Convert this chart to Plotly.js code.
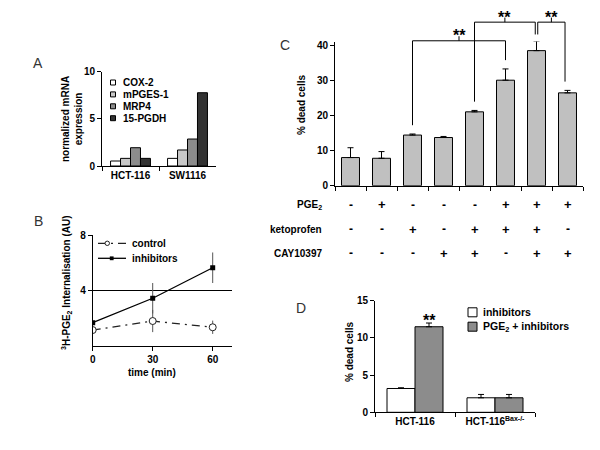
<!DOCTYPE html>
<html><head><meta charset="utf-8">
<script src="https://cdn.plot.ly/plotly-3.0.1.min.js"></script>
<style>html,body{margin:0;padding:0;background:#fff}#chart{width:600px;height:450px}</style>
</head><body><div id="chart"></div>
<script>
// ---------- Panel A data ----------
const cellLinesA = ['HCT-116', 'SW1116'];
const genesA = ['COX-2', 'mPGES-1', 'MRP4', '15-PGDH'];
const cox2A = [0.53, 0.81];
const mpges1A = [0.81, 1.70];
const mrp4A = [1.94, 2.86];
const pgdh15A = [0.81, 7.77];

// ---------- Panel B data ----------
const timeMin = [0, 30, 60];
const controlB = [1.15, 1.80, 1.35];
const controlErrB = [0.10, 0.80, 0.48];
const inhibitorsB = [1.68, 3.44, 5.64];
const inhibitorsErrB = [0, 1.10, 1.10];
const seriesB = ['control', 'inhibitors'];

// ---------- Panel C data ----------
const rowLabelsC = ['PGE<sub>2</sub>', 'ketoprofen', 'CAY10397'];
const pge2Row = ['-', '+', '-', '-', '-', '+', '+', '+'];
const ketoprofenRow = ['-', '-', '+', '-', '+', '+', '+', '-'];
const cayRow = ['-', '-', '-', '+', '+', '-', '+', '+'];
const deadCellsC = [8.0, 7.8, 14.4, 13.7, 21.0, 30.0, 38.4, 26.4];
const deadCellsErrC = [2.8, 1.9, 0.3, 0.3, 0.4, 3.2, 2.7, 0.7];
const sigPairsC = [[2, 5], [4, 6], [6, 7]];
const sigLabelsC = ['**', '**', '**'];

// ---------- Panel D data ----------
const cellLinesD = ['HCT-116', 'HCT-116<sup>Bax-/-</sup>'];
const seriesD = ['inhibitors', 'PGE<sub>2</sub> + inhibitors'];
const inhibitorsD = [3.2, 1.95];
const inhibitorsErrD = [0.1, 0.45];
const pge2InhibitorsD = [11.5, 1.95];
const pge2InhibitorsErrD = [0.5, 0.45];
const sigD = [{cat: 0, series: 1, label: '**'}];

// ---------- helpers / styles ----------
const W = 600, H = 450;
const px = v => v / W;
const py = v => 1 - v / H;
const FONT = 'Liberation Sans, Arial, sans-serif';
const boldFont = (s) => ({family: FONT, size: s, color: '#000', weight: 'bold'});
const colorsA = ['#ffffff', '#c8c8c8', '#8c8c8c', '#333333'];
const colorsD = ['#ffffff', '#8c8c8c'];
const conditionsC = pge2Row.map((p, i) => p + ketoprofenRow[i] + cayRow[i]);

const axBase = {
  showline: true, linecolor: '#000', linewidth: 1,
  ticks: 'outside', ticklen: 4, tickwidth: 1, tickcolor: '#000',
  zeroline: false, showgrid: false, fixedrange: true,
  tickfont: boldFont(10)
};

const traces = [];
// Panel A bars
[cox2A, mpges1A, mrp4A, pgdh15A].forEach((vals, k) => {
  traces.push({
    type: 'bar', x: cellLinesA, y: vals, name: genesA[k],
    xaxis: 'x', yaxis: 'y',
    marker: {color: colorsA[k], line: {color: '#000', width: 1}}
  });
});
// Panel B lines
traces.push({
  type: 'scatter', mode: 'lines+markers', x: timeMin, y: controlB, name: seriesB[0],
  xaxis: 'x2', yaxis: 'y2',
  line: {color: '#222', width: 1.3, dash: '8px,5px,2px,5px'},
  marker: {symbol: 'circle', size: 7, color: '#fff', line: {color: '#222', width: 1}},
  error_y: {type: 'data', array: controlErrB, color: '#555', thickness: 1, width: 0}
});
traces.push({
  type: 'scatter', mode: 'lines+markers', x: timeMin, y: inhibitorsB, name: seriesB[1],
  xaxis: 'x2', yaxis: 'y2',
  line: {color: '#000', width: 1.3},
  marker: {symbol: 'square', size: 5, color: '#000'},
  error_y: {type: 'data', array: inhibitorsErrB, color: '#555', thickness: 1, width: 0}
});
// Panel C bars
traces.push({
  type: 'bar', x: conditionsC, y: deadCellsC, name: '% dead cells',
  xaxis: 'x3', yaxis: 'y3', width: 0.58,
  marker: {color: '#c0c0c0', line: {color: '#000', width: 1}},
  error_y: {type: 'data', symmetric: false, array: deadCellsErrC,
            arrayminus: deadCellsErrC.map(() => 0), color: '#000', thickness: 1, width: 3}
});
// Panel D bars
[[inhibitorsD, inhibitorsErrD], [pge2InhibitorsD, pge2InhibitorsErrD]].forEach(([vals, errs], k) => {
  traces.push({
    type: 'bar', x: cellLinesD, y: vals, name: seriesD[k],
    xaxis: 'x4', yaxis: 'y4',
    marker: {color: colorsD[k], line: {color: '#000', width: 1}},
    error_y: {type: 'data', symmetric: false, array: errs,
              arrayminus: errs.map(() => 0), color: '#000', thickness: 1, width: 3}
  });
});

const layout = {
  width: W, height: H,
  margin: {l: 0, r: 0, t: 0, b: 0},
  paper_bgcolor: '#fff', plot_bgcolor: 'rgba(0,0,0,0)',
  showlegend: false,
  font: {family: FONT, size: 10, color: '#000', weight: 'bold'},
  barmode: 'group', bargap: 0.3, bargroupgap: 0,
  xaxis: {...axBase, domain: [px(102), px(216)], anchor: 'y', type: 'category', tickson: 'boundaries'},
  yaxis: {...axBase, domain: [py(166), py(71.7)], anchor: 'x', range: [0, 10], tickvals: [0, 5, 10]},
  xaxis2: {...axBase, domain: [px(92.7), px(231.7)], anchor: 'y2', range: [0, 69.5], tickvals: timeMin},
  yaxis2: {...axBase, domain: [py(346), py(235)], anchor: 'x2', range: [0, 8], tickvals: [4, 8],
           showgrid: true, gridcolor: '#000', gridwidth: 1},
  xaxis3: {...axBase, domain: [px(335), px(583)], anchor: 'y3', type: 'category', tickson: 'boundaries', showticklabels: false},
  yaxis3: {...axBase, domain: [py(185.7), py(41.5)], anchor: 'x3', range: [0, 41], tickvals: [0, 10, 20, 30, 40]},
  xaxis4: {...axBase, domain: [px(375), px(535)], anchor: 'y4', type: 'category', tickson: 'boundaries'},
  yaxis4: {...axBase, domain: [py(412.3), py(300.7)], anchor: 'x4', range: [0, 15], tickvals: [0, 5, 10, 15]},
  shapes: [], annotations: []
};

const ann = layout.annotations, shp = layout.shapes;
const txt = (x, y, text, opts) => Object.assign({xref: 'paper', yref: 'paper', x, y, text, showarrow: false,
  font: boldFont(10), xanchor: 'center', yanchor: 'middle'}, opts || {});

// Panel letters
[['A', 38, 63], ['B', 38, 221], ['C', 285, 45], ['D', 301, 308]].forEach(([t, x, y]) => {
  ann.push(txt(px(x), py(y), t, {font: {family: FONT, size: 14, color: '#333', weight: 'normal'}}));
});

// Axis titles (as rotated text)
ann.push(txt(px(72), py(119), 'normalized mRNA<br>expression', {textangle: -90}));
ann.push(txt(px(66), py(283), '<sup>3</sup>H-PGE<sub>2</sub> Internalisation (AU)', {textangle: -90}));
ann.push(txt(px(152), py(372), 'time (min)'));
ann.push(txt(px(301), py(105), '% dead cells', {textangle: -90}));
ann.push(txt(px(349), py(352), '% dead cells', {textangle: -90}));

// Panel A legend
genesA.forEach((g, k) => {
  const yc = 82.5 + 11.9 * k;
  shp.push({type: 'rect', xref: 'paper', yref: 'paper', x0: px(110.5), x1: px(115.5), y0: py(yc + 2.5), y1: py(yc - 2.5),
            fillcolor: colorsA[k], line: {color: '#000', width: 1}});
  ann.push(txt(px(121), py(yc), g, {xanchor: 'left'}));
});

// Panel B legend
[[243.3, 0], [258.3, 1]].forEach(([yc, k]) => {
  const tr = traces[4 + k];
  shp.push({type: 'line', xref: 'paper', yref: 'paper', x0: px(98), x1: px(126), y0: py(yc), y1: py(yc),
            line: {color: tr.line.color, width: tr.line.width, dash: tr.line.dash || 'solid'}});
  if (k === 0) {
    shp.push({type: 'circle', xref: 'paper', yref: 'paper', x0: px(105), x1: px(109.5), y0: py(yc + 2.2), y1: py(yc - 2.2),
              fillcolor: '#fff', line: {color: '#222', width: 1}});
  } else {
    shp.push({type: 'rect', xref: 'paper', yref: 'paper', x0: px(109.8), x1: px(113.6), y0: py(yc + 1.9), y1: py(yc - 1.9),
              fillcolor: '#000', line: {color: '#000', width: 0}});
  }
  ann.push(txt(px(130), py(yc), seriesB[k], {xanchor: 'left'}));
});

// Panel D legend
seriesD.forEach((s, k) => {
  const yc = 312.3 + 14.4 * k;
  shp.push({type: 'rect', xref: 'paper', yref: 'paper', x0: px(468), x1: px(477), y0: py(yc + 4.5), y1: py(yc - 4.5),
            fillcolor: colorsD[k], line: {color: '#000', width: 1}});
  ann.push(txt(px(481), py(yc), s, {xanchor: 'left', font: boldFont(10.5)}));
});

// Panel C condition table
const rowsC = [pge2Row, ketoprofenRow, cayRow];
const rowY = [205, 229.3, 253.3];
rowsC.forEach((row, r) => {
  ann.push(txt(px(324), py(rowY[r]), rowLabelsC[r], {xanchor: 'right'}));
  row.forEach((s, i) => {
    ann.push(txt(i, py(rowY[r]), s, {xref: 'x3', font: boldFont(s === '+' ? 13 : 12)}));
  });
});

// Panel C significance brackets
const yC = v => {
  const d = layout.yaxis3.domain, r = layout.yaxis3.range;
  return d[0] + (v - r[0]) / (r[1] - r[0]) * (d[1] - d[0]);
};
const levels = [41.2, 46.5, 46.5];
const legOff = [[0, 0], [0, -0.04], [0.04, -0.08]];
const ln = (x0, y0, x1, y1) => ({type: 'line', xref: 'x3', yref: 'paper', x0, x1, y0, y1, line: {color: '#000', width: 1}});
sigPairsC.forEach(([a, b], k) => {
  const lev = levels[k];
  const xa = a + legOff[k][0], xb = b + legOff[k][1];
  const ba = Math.min(deadCellsC[a] + deadCellsErrC[a] + 2.5, lev - 3.5);
  const bb = Math.min(deadCellsC[b] + deadCellsErrC[b] + 2.5, lev - 3.5);
  const xm = (xa + xb) / 2;
  shp.push(ln(xa, yC(ba), xa, yC(lev)));
  shp.push(ln(xa, yC(lev), xb, yC(lev)));
  shp.push(ln(xb, yC(lev), xb, yC(bb)));
  shp.push(ln(xm, yC(lev), xm, yC(lev + 1.3)));
  ann.push(txt(xm, yC(lev + 1.4), sigLabelsC[k], {xref: 'x3', font: boldFont(16)}));
});

// Panel D significance
sigD.forEach(s => {
  const vals = s.series === 1 ? pge2InhibitorsD : inhibitorsD;
  const errs = s.series === 1 ? pge2InhibitorsErrD : inhibitorsErrD;
  ann.push(txt(s.cat + (s.series === 1 ? 0.175 : -0.175), vals[s.cat] + errs[s.cat] + 0.3, s.label,
               {xref: 'x4', yref: 'y4', font: boldFont(16)}));
});

Plotly.newPlot('chart', traces, layout, {staticPlot: true, displayModeBar: false});
</script>
</body></html>
